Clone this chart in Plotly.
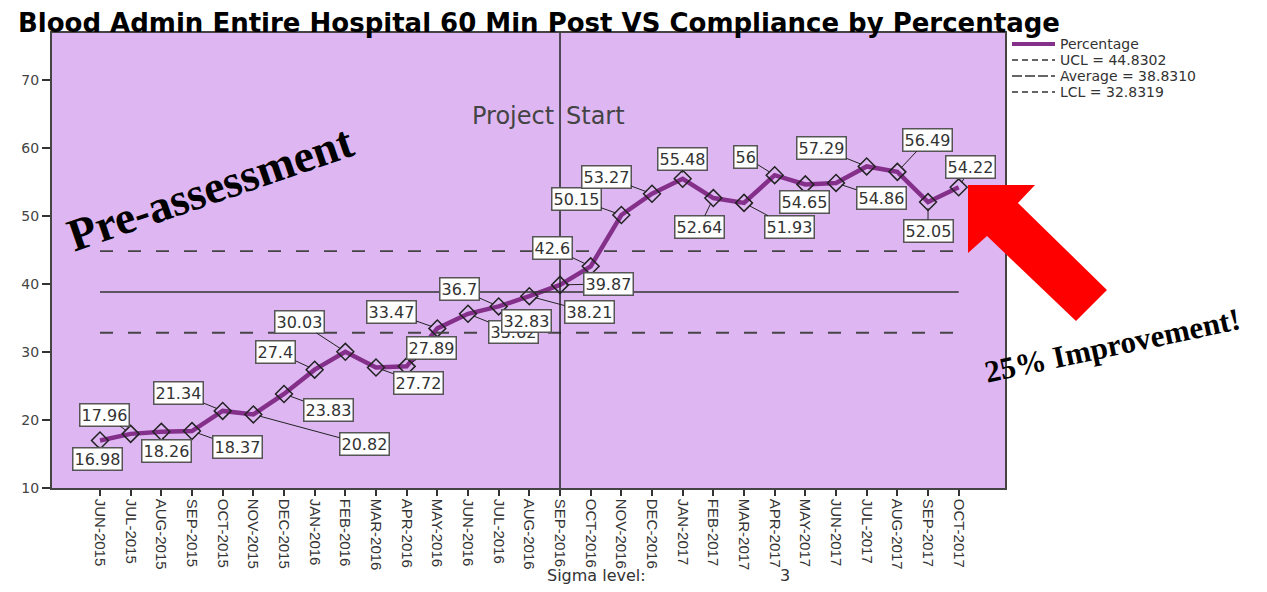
import plotly.graph_objects as go

# ---- data ----
months = [
    "JUN-2015", "JUL-2015", "AUG-2015", "SEP-2015", "OCT-2015", "NOV-2015",
    "DEC-2015", "JAN-2016", "FEB-2016", "MAR-2016", "APR-2016", "MAY-2016",
    "JUN-2016", "JUL-2016", "AUG-2016", "SEP-2016", "OCT-2016", "NOV-2016",
    "DEC-2016", "JAN-2017", "FEB-2017", "MAR-2017", "APR-2017", "MAY-2017",
    "JUN-2017", "JUL-2017", "AUG-2017", "SEP-2017", "OCT-2017",
]
percentage = [
    16.98, 17.96, 18.26, 18.37, 21.34, 20.82, 23.83, 27.4, 30.03, 27.72,
    27.89, 33.47, 35.62, 36.7, 38.21, 39.87, 42.6, 50.15, 53.27, 55.48,
    52.64, 51.93, 56, 54.65, 54.86, 57.29, 56.49, 52.05, 54.22,
]
ucl = 44.8302
average = 38.8310
lcl = 32.8319
extra_label = 32.83
project_start = "SEP-2016"
y_ticks = [10, 20, 30, 40, 50, 60, 70]

# label box offsets (pixels from the point)
label_offsets = [
    (-3, 18), (-26, -19), (5, 19), (45, 16), (-44, -18), (111, 30),
    (44, 16), (-39, -18), (-46, -30), (42, 15), (25, -18), (-46, -16),
    (45, 18), (-39, -17), (60, 16), (48, -1), (-38, -18), (-45, -16),
    (-46, -17), (0, -20), (-14, 29), (45, 24), (-29, -18), (-1, 18),
    (45, 15), (-45, -18), (30, -32), (0, 29), (12, -20),
]

PURPLE = "#84308a"
BG = "#DEB7F2"

# page body has an 8px margin, so the figure sits at (8, 8)
OFF = 8
W, H = 1267 - 2 * OFF, 592 - 2 * OFF
# plot area in reference pixels
L, R, T, B = 52, 1005, 33, 488


def px(x):
    return (x - L) / (R - L)


def py(y):
    return (B - y) / (B - T)


fig = go.Figure()

fig.add_trace(go.Scatter(
    x=months, y=percentage, mode="lines+markers", name="Percentage",
    line=dict(color=PURPLE, width=4.5), showlegend=False,
    marker=dict(symbol="diamond-open", size=13, color="#222",
                line=dict(width=1.5, color="#222")),
))
for val, dash in [(ucl, "13px,15px"), (average, "solid"), (lcl, "13px,15px")]:
    fig.add_trace(go.Scatter(
        x=[months[0], months[-1]], y=[val, val], mode="lines", showlegend=False,
        line=dict(color="#444" if dash != "solid" else "#333",
                  width=1.8 if dash != "solid" else 1.5, dash=dash),
    ))

# project start line
fig.add_shape(type="line", xref="x", yref="paper", x0=project_start, x1=project_start,
              y0=0, y1=1, line=dict(color="#222", width=1.5), layer="above")

annotations = []
label_font = dict(family="DejaVu Sans", size=16, color="#333")
for i, (m, v) in enumerate(zip(months, percentage)):
    dx, dy = label_offsets[i]
    annotations.append(dict(
        x=m, y=v, text=f"{v:g}", showarrow=True, arrowhead=0, arrowwidth=1,
        arrowcolor="#222", ax=dx, ay=dy, standoff=6, font=label_font,
        bgcolor="white", bordercolor="#555", borderwidth=1.5, borderpad=1,
    ))
# overlapping label seen on the original
annotations.append(dict(
    x=months[13], y=percentage[13], text=f"{extra_label:g}", showarrow=False,
    xshift=28, yshift=-15, font=label_font, bgcolor="white",
    bordercolor="#555", borderwidth=1.5, borderpad=1,
))

# Project Start text
annotations += [
    dict(x=project_start, y=64.7, text="Project", showarrow=False, xanchor="right",
         yanchor="middle", xshift=-4, font=dict(family="DejaVu Sans", size=24, color="#444")),
    dict(x=project_start, y=64.7, text="Start", showarrow=False, xanchor="left",
         yanchor="middle", xshift=4, font=dict(family="DejaVu Sans", size=24, color="#444")),
]

# overlay texts
annotations += [
    dict(xref="paper", yref="paper", x=px(210), y=py(188), text="<b>Pre-assessment</b>",
         showarrow=False, textangle=-19, xanchor="center", yanchor="middle",
         font=dict(family="Liberation Serif", size=46, color="black")),
    dict(xref="paper", yref="paper", x=px(1112), y=py(345), text="<b>25% Improvement!</b>",
         showarrow=False, textangle=-12, xanchor="center", yanchor="middle",
         font=dict(family="Liberation Serif", size=31, color="black")),
    dict(xref="paper", yref="paper", x=px(545), y=py(575), text="Sigma level:",
         showarrow=False, xanchor="left", yanchor="middle",
         font=dict(family="DejaVu Sans", size=16, color="#333")),
    dict(xref="paper", yref="paper", x=px(785), y=py(575), text="3",
         showarrow=False, xanchor="center", yanchor="middle",
         font=dict(family="DejaVu Sans", size=16, color="#333")),
]

# legend drawn by hand to get the tight row spacing of the original
legend_rows = [
    ("Percentage", 44, dict(color=PURPLE, width=4)),
    (f"UCL = {ucl:.4f}", 60, dict(color="#333", width=1.5, dash="6px,4px")),
    (f"Average = {average:.4f}", 76, dict(color="#333", width=1.5, dash="10px,3px")),
    (f"LCL = {lcl:.4f}", 92, dict(color="#333", width=1.5, dash="6px,4px")),
]
for text, ry, line in legend_rows:
    annotations.append(dict(
        xref="paper", yref="paper", x=px(1058), y=py(ry), text=text, showarrow=False,
        xanchor="left", yanchor="middle",
        font=dict(family="DejaVu Sans", size=14, color="#333"),
    ))
    fig.add_shape(type="line", xref="paper", yref="paper", x0=px(1012), x1=px(1055),
                  y0=py(ry), y1=py(ry), line=line)

# red arrow
arrow_pts = [(968, 185), (1035, 185), (1018, 203), (1107, 290),
             (1076, 321), (987, 236), (968, 253)]
path = "M " + " L ".join(f"{px(a):.4f},{py(b):.4f}" for a, b in arrow_pts) + " Z"
fig.add_shape(type="path", xref="paper", yref="paper", path=path,
              fillcolor="#FF0000", line=dict(width=0), layer="above")

fig.update_layout(
    width=W, height=H,
    margin=dict(l=L - OFF, r=W - (R - OFF), t=T - OFF, b=H - (B - OFF)),
    paper_bgcolor="white", plot_bgcolor=BG,
    title=dict(text="<b>Blood Admin Entire Hospital 60 Min Post VS Compliance by Percentage</b>",
               x=(18 - OFF) / W, xanchor="left", xref="container",
               y=1 - (23 - OFF) / H, yanchor="middle", yref="container",
               font=dict(family="DejaVu Sans", size=26, color="black")),
    annotations=annotations,
    showlegend=False,
    xaxis=dict(
        type="category", range=[-1.565, 29.51], showgrid=False, zeroline=False,
        showline=True, linecolor="#444", linewidth=1.5, mirror=True,
        ticks="outside", ticklen=6, tickwidth=1.5, tickcolor="#333",
        tickangle=90, tickfont=dict(family="Liberation Sans", size=15, color="#333"),
    ),
    yaxis=dict(
        range=[10, 10 + (B - T) / 6.8], tickvals=y_ticks, showgrid=False, zeroline=False,
        showline=True, linecolor="#444", linewidth=2, mirror=True,
        ticks="outside", ticklen=8, tickwidth=1.5, tickcolor="#333",
        tickfont=dict(family="DejaVu Sans", size=14, color="#444"),
    ),
)

fig.write_html("out.html")
